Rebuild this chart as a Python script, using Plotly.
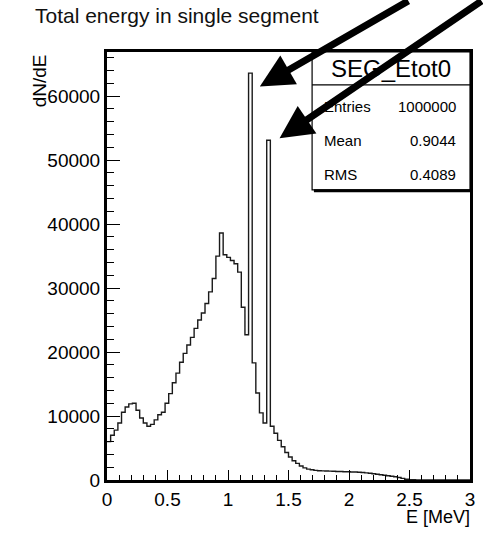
import numpy as np
import plotly.graph_objects as go

# ---- data ----
bin_width = 0.03
counts = [
    6000, 7000, 7800, 8900, 10600, 11400, 11900, 12000, 10900, 9700,
    8900, 8400, 8700, 9400, 10200, 10600, 12000, 13500, 15200, 16700,
    18400, 19800, 21100, 22300, 23700, 25000, 26100, 27600, 29400, 31500,
    35000, 38600, 35200, 34800, 34300, 33800, 32500, 27000, 22700, 63600,
    18300, 13600, 10500, 8900, 53100, 8400, 7300, 6200, 5200, 4300,
    3600, 3000, 2600, 2200, 1900, 1700, 1600, 1500, 1450, 1420,
    1400, 1380, 1360, 1340, 1320, 1300, 1280, 1260, 1240, 1220,
    1180, 1120, 1060, 980, 900, 820, 740, 660, 580, 500,
    400, 250, 120, 60, 30, 20, 15, 10, 10, 5,
    5, 5, 0, 0, 0, 0, 0, 0, 0, 0,
]
y_ticks = [0, 10000, 20000, 30000, 40000, 50000, 60000]
y_tick_labels = ["0", "10000", "20000", "30000", "40000", "50000", "60000"]
x_ticks = [0, 0.5, 1, 1.5, 2, 2.5, 3]
x_tick_labels = ["0", "0.5", "1", "1.5", "2", "2.5", "3"]
stats_labels = ["Entries", "Mean", "RMS"]
stats_values = ["1000000", "0.9044", "0.4089"]
hist_name = "SEG_Etot0"
# arrow tips (data coords) and tail offsets (pixels)
arrow_tip_x = [1.263, 1.426]
arrow_tip_y = [61500, 53400]
arrow_ax = [150, 240]
arrow_ay = [-102, -160]

edges = np.arange(len(counts) + 1) * bin_width
xs = list(edges)
ys = counts + [counts[-1]]

FONT = "Liberation Sans, Arial, sans-serif"

fig = go.Figure()
fig.add_trace(go.Scatter(
    x=xs, y=ys, mode="lines", line=dict(shape="hv", color="#1a1a1a", width=1.4),
    showlegend=False, hoverinfo="skip",
))

fig.update_layout(
    width=483, height=533,
    margin=dict(l=107, r=8, t=52, b=53),
    paper_bgcolor="white", plot_bgcolor="white",
    font=dict(family=FONT, color="black", size=19),
    showlegend=False,
)
fig.update_xaxes(
    range=[0, 3], tickvals=x_ticks, ticktext=x_tick_labels,
    ticks="inside", ticklen=10, tickwidth=1.2, tickcolor="black",
    minor=dict(ticks="inside", ticklen=5, dtick=0.1, tickcolor="black", tickwidth=1),
    showline=True, linewidth=3, linecolor="black", mirror=True,
    showgrid=False, zeroline=False, tickfont=dict(size=19),
)
fig.update_yaxes(
    range=[0, 66900], tickvals=y_ticks, ticktext=y_tick_labels,
    ticks="inside", ticklen=13, tickwidth=1.2, tickcolor="black",
    minor=dict(ticks="inside", ticklen=7, dtick=2000, tickcolor="black", tickwidth=1),
    showline=True, linewidth=3, linecolor="black", mirror=True,
    showgrid=False, zeroline=False, tickfont=dict(size=19),
)

# stats box
bx0, bx1, by0, by1, bdiv = 0.565, 1.0, 0.678, 1.0, 0.923
fig.add_shape(type="rect", xref="paper", yref="paper", x0=bx0, x1=bx1, y0=by0, y1=by1,
              line=dict(color="black", width=1.2), fillcolor="white", layer="above")
fig.add_shape(type="line", xref="paper", yref="paper", x0=bx0 + 0.005, x1=bx1, y0=by0 - 0.002, y1=by0 - 0.002,
              line=dict(color="black", width=3), layer="above")
fig.add_shape(type="line", xref="paper", yref="paper", x0=bx0, x1=bx1, y0=bdiv, y1=bdiv,
              line=dict(color="black", width=1.2), layer="above")
fig.add_annotation(xref="paper", yref="paper", x=(bx0 + bx1) / 2, y=(bdiv + by1) / 2,
                   text=hist_name, showarrow=False, font=dict(size=24, family=FONT),
                   xanchor="center", yanchor="middle")
row_y = [0.8715, 0.794, 0.713]
for lab, val, yy in zip(stats_labels, stats_values, row_y):
    fig.add_annotation(xref="paper", yref="paper", x=0.592, y=yy, text=lab, showarrow=False,
                       font=dict(size=15, family=FONT), xanchor="left", yanchor="middle")
    fig.add_annotation(xref="paper", yref="paper", x=0.968, y=yy, text=val, showarrow=False,
                       font=dict(size=15, family=FONT), xanchor="right", yanchor="middle")

# titles
fig.add_annotation(xref="paper", yref="paper", x=-0.204, y=1.0864,
                   text="Total energy in single segment", showarrow=False,
                   font=dict(size=21, family=FONT, color="#111"), xanchor="left", yanchor="middle")
fig.add_annotation(xref="paper", yref="paper", x=1.005, y=-0.087, text="E [MeV]",
                   showarrow=False, font=dict(size=18, family=FONT), xanchor="right", yanchor="middle")
fig.add_annotation(xref="paper", yref="paper", x=-0.185, y=1.0, text="dN/dE", textangle=-90,
                   showarrow=False, font=dict(size=19, family=FONT), xanchor="center", yanchor="top")

# arrows
for tx, ty, ax, ay in zip(arrow_tip_x, arrow_tip_y, arrow_ax, arrow_ay):
    fig.add_annotation(x=tx, y=ty, xref="x", yref="y", ax=ax, ay=ay, text="",
                       showarrow=True, arrowhead=2, arrowsize=0.95, arrowwidth=7,
                       arrowcolor="black")

# remove the default 8px page margin so the figure sits at the window's corner
fig.write_html("out.html", config={"displayModeBar": False},
               post_script="document.body.style.margin='0';")
